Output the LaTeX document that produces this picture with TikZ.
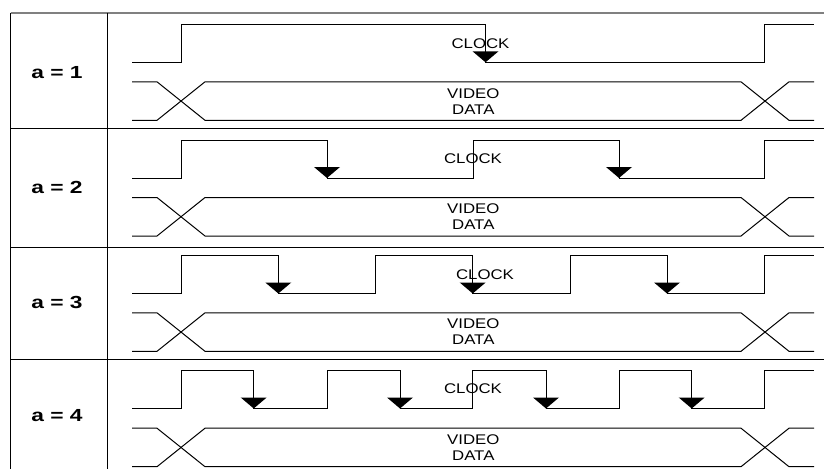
\documentclass[tikz,border=0pt]{standalone}
\usepackage{fontspec}
\setmainfont{Liberation Sans}
\newfontfamily\wsans[FakeStretch=1.2]{Liberation Sans}
\newfontfamily\wbold[FakeStretch=1.3]{Liberation Sans Bold}
\begin{document}
\begin{tikzpicture}[x=1pt,y=-1pt,
  sig/.style={line width=1pt,line join=miter},
  grid/.style={line width=1pt},
  arr/.style={fill=black},
  lbl/.style={inner sep=0pt,font=\wbold\fontsize{17.5}{20}\selectfont},
  sigtxt/.style={inner sep=0pt,align=center,font=\wsans\fontsize{14}{16}\selectfont}]
\useasboundingbox (0,0) rectangle (824,469);
% table
\draw[gray,line width=1.6pt] (10.7,12.7) -- (824,12.7);
\draw[grid] (10.7,12.7) -- (10.7,469);
\draw[grid] (107.3,12.7) -- (107.3,469);
\foreach \yy in {128.3,247,359} \draw[grid] (10.7,\yy) -- (824,\yy);
% data buses
\foreach \h in {24.3,140,255.3,370.7}{
  \draw[sig] (132,\h+57.5) -- (157,\h+57.5) -- (205,\h+96) -- (741,\h+96) -- (789,\h+57.5) -- (814,\h+57.5);
  \draw[sig] (132,\h+96) -- (157,\h+96) -- (205,\h+57.5) -- (741,\h+57.5) -- (789,\h+96) -- (814,\h+96);
}
% row 1 clock
\def\H{24.3}\def\L{62.3}
\draw[sig] (132,\L) -- (181,\L) -- (181,\H) -- (485.5,\H) -- (485.5,\L) -- (764,\L) -- (764,\H) -- (814,\H);
\foreach \x in {485.5}{\fill[arr] (\x-13,\L-11) -- (\x+13,\L-11) -- (\x,\L) -- cycle;}
% row 2 clock
\def\H{140}\def\L{178}
\draw[sig] (132,\L) -- (181,\L) -- (181,\H) -- (327,\H) -- (327,\L) -- (473,\L) -- (473,\H) -- (619,\H) -- (619,\L) -- (764,\L) -- (764,\H) -- (814,\H);
\foreach \x in {327,619}{\fill[arr] (\x-13,\L-11) -- (\x+13,\L-11) -- (\x,\L) -- cycle;}
% row 3 clock
\def\H{255.3}\def\L{293.5}
\draw[sig] (132,\L) -- (181,\L) -- (181,\H) -- (278.3,\H) -- (278.3,\L) -- (375.7,\L) -- (375.7,\H) -- (472.7,\H) -- (472.7,\L) -- (570,\L) -- (570,\H) -- (667,\H) -- (667,\L) -- (764,\L) -- (764,\H) -- (814,\H);
\foreach \x in {278.3,472.7,667}{\fill[arr] (\x-13,\L-11) -- (\x+13,\L-11) -- (\x,\L) -- cycle;}
% row 4 clock
\def\H{370.7}\def\L{408.5}
\draw[sig] (132,\L) -- (181,\L) -- (181,\H) -- (253.7,\H) -- (253.7,\L) -- (327,\L) -- (327,\H) -- (400,\H) -- (400,\L) -- (472.7,\L) -- (472.7,\H) -- (546,\H) -- (546,\L) -- (619.3,\L) -- (619.3,\H) -- (691.7,\H) -- (691.7,\L) -- (764,\L) -- (764,\H) -- (814,\H);
\foreach \x in {253.7,400,546,691.7}{\fill[arr] (\x-13,\L-11) -- (\x+13,\L-11) -- (\x,\L) -- cycle;}
% labels
\node[lbl] (a1) at (57,73) {a = 1};
\node[lbl] (a2) at (57,187.5) {a = 2};
\node[lbl] (a3) at (57,302.7) {a = 3};
\node[lbl] (a4) at (57,416) {a = 4};
\node[sigtxt] (c1) at (480.5,43.3) {CLOCK};
\node[sigtxt] (c2) at (473,158.3) {CLOCK};
\node[sigtxt] (c3) at (485,274.3) {CLOCK};
\node[sigtxt] (c4) at (473,388.3) {CLOCK};
\node[sigtxt] (v1) at (473.3,101.3) {VIDEO\\DATA};
\node[sigtxt] (v2) at (473.3,216.3) {VIDEO\\DATA};
\node[sigtxt] (v3) at (473.3,331.8) {VIDEO\\DATA};
\node[sigtxt] (v4) at (473.3,447.3) {VIDEO\\DATA};
\end{tikzpicture}
\end{document}
